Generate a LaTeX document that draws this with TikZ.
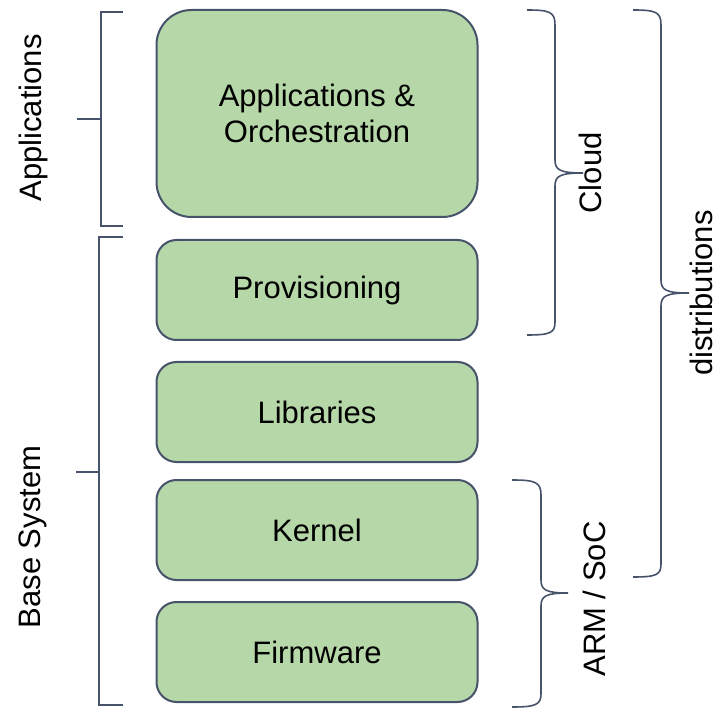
\documentclass[tikz,border=0pt]{standalone}
\usepackage{fontspec}
\setmainfont{Liberation Sans}
\definecolor{layergreen}{HTML}{B6D7A8}
\definecolor{slate}{HTML}{46536A}
\begin{document}
\begin{tikzpicture}[x=1pt,y=-1pt,
    layer/.style={draw=slate,line width=2pt,fill=layergreen,rounded corners=20pt,
      minimum width=321pt,minimum height=100pt,align=center,
      font=\fontsize{31}{36}\selectfont},
    side/.style={rotate=90,font=\fontsize{31}{36}\selectfont,inner sep=1pt},
    brk/.style={draw=slate,line width=2pt},
    brc/.style={draw=slate,line width=1.6pt}]
  \useasboundingbox (0,0) rectangle (720,708);

  % stack of layers
  \node[layer,minimum height=207pt,rounded corners=35pt] (apps) at (317,113.5) {Applications \&\\Orchestration};
  \node[layer] (prov) at (317,290) {Provisioning};
  \node[layer] (libs) at (317,412) {Libraries};
  \node[layer] (kern) at (317,530) {Kernel};
  \node[layer] (firm) at (317,652) {Firmware};

  % left brackets
  \draw[brk] (123,12) -- (101,12) -- (101,226) -- (123,226);
  \draw[brk] (77,119) -- (101,119);
  \node[side] (lapps) at (33,118) {Applications};

  \draw[brk] (123,237) -- (99,237) -- (99,705) -- (123,705);
  \draw[brk] (76,472) -- (99,472);
  \node[side] (lbase) at (33,537) {Base System};

  % right braces
  \draw[brc] (527,10) .. controls (550,10) and (555,12) .. (555,25) -- (555,160)
    .. controls (555,170) and (560,173) .. (583,173)
    .. controls (560,173) and (555,176) .. (555,186) -- (555,322)
    .. controls (555,333) and (550,335) .. (527,335);
  \node[side] (lcloud) at (590,173) {Cloud};

  \draw[brc] (633,10) .. controls (656,10) and (661,12) .. (661,25) -- (661,280)
    .. controls (661,290) and (666,293) .. (689,293)
    .. controls (666,293) and (661,296) .. (661,306) -- (661,564)
    .. controls (661,575) and (656,577) .. (633,577);
  \node[side] (ldist) at (701,293) {distributions};

  \draw[brc] (512,480) .. controls (535,480) and (541,482) .. (541,495) -- (541,580)
    .. controls (541,590) and (546,593) .. (568,593)
    .. controls (546,593) and (541,596) .. (541,606) -- (541,694)
    .. controls (541,705) and (535,707) .. (512,707);
  \node[side] (larm) at (594,599) {ARM / SoC};
\end{tikzpicture}
\end{document}
